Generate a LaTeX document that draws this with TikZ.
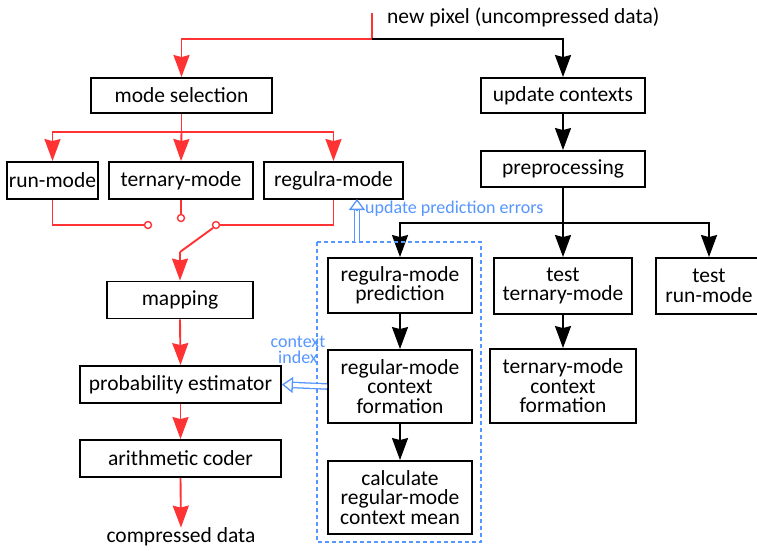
\documentclass[tikz,border=0pt]{standalone}
\usepackage{fontspec}
\setmainfont{Carlito}
\usetikzlibrary{arrows.meta}
\definecolor{rd}{RGB}{255,51,51}
\definecolor{bl}{RGB}{85,150,255}
\begin{document}
\begin{tikzpicture}[x=1pt,y=-1pt,
  font=\fontsize{21.5}{19.5}\selectfont,
  box/.style={draw, line width=1.9pt, align=center, inner sep=0pt},
  arr/.style={line width=1.9pt, -{Stealth[length=22pt,width=16pt,inset=2pt]}},
  ln/.style={line width=1.9pt},
  redarr/.style={arr, draw=rd},
  redln/.style={ln, draw=rd},
  sw/.style={circle, draw=rd, fill=white, line width=1.4pt, inner sep=0pt, minimum size=7pt},
  dblline/.style={draw=bl, double=white, double distance=4pt, line width=1.3pt, shorten >=10pt},
  dbltip/.style={draw=bl, line width=1.3pt, -{Triangle[open, length=11pt, width=16pt, fill=white]}},
  bluelbl/.style={text=bl, font=\fontsize{18}{16.5}\selectfont, inner sep=0pt, align=center}
]
\useasboundingbox[fill=white] (0,0) rectangle (757,550);

% left column
\node[box, minimum width=181pt, minimum height=35pt] (modesel) at (181.5,95.5) {mode selection};
\node[box, minimum width=91pt, minimum height=37pt] (run) at (52.5,180.5) {run-mode};
\node[box, minimum width=144pt, minimum height=37pt] (tern) at (181,180.5) {ternary-mode};
\node[box, minimum width=139pt, minimum height=37pt] (regm) at (333.5,180.5) {regulra-mode};
\node[box, minimum width=146pt, minimum height=37pt] (map) at (180,300) {mapping};
\node[box, minimum width=201pt, minimum height=37pt] (prob) at (180.5,384.5) {probability estimator};
\node[box, minimum width=201pt, minimum height=37pt] (arith) at (180.5,458.5) {arithmetic coder};
\node[inner sep=0pt] (out) at (181,537) {compressed data};

% right column
\node[box, minimum width=164pt, minimum height=35pt] (upd) at (563,95.5) {update contexts};
\node[box, minimum width=164pt, minimum height=36pt] (prep) at (563,169) {preprocessing};
\node[box, minimum width=144pt, minimum height=55pt] (pred) at (400,285.5) {regulra-mode\\prediction};
\node[box, minimum width=144pt, minimum height=73pt] (ctxf) at (400,386.5) {regular-mode\\context\\formation};
\node[box, minimum width=144pt, minimum height=73pt] (calc) at (400,497.5) {calculate\\regular-mode\\context mean};
\node[box, minimum width=138pt, minimum height=56pt] (ttern) at (563,286) {test\\ternary-mode};
\node[box, minimum width=106pt, minimum height=56pt] (trun) at (709,286) {test\\run-mode};
\node[box, minimum width=146pt, minimum height=74pt] (tctx) at (563,386) {ternary-mode\\context\\formation};

% top input
\node[inner sep=0pt, anchor=west] (inp) at (387,17) {new pixel (uncompressed data)};
\coordinate (top) at (372,13);
\coordinate (split) at (372,39);
\draw[redln] (top) -- (split);
\draw[redarr] (split) -| (modesel.north);
\draw[arr] (split) -| (upd.north);

% mode selection branches
\coordinate (mbr) at (181.5,132);
\draw[redln] (modesel.south) -- (mbr);
\draw[redarr] (mbr) -| (run.north);
\draw[redarr] (mbr) -- (tern.north);
\draw[redarr] (mbr) -| (regm.north);

% switch
\node[sw] (s1) at (148,225) {};
\node[sw] (s2) at (181,218) {};
\node[sw] (s3) at (216,225) {};
\coordinate (knee) at (180,252);
\draw[redln] (run.south) |- (s1.west);
\draw[redln] (tern.south) -- (s2.north);
\draw[redln] (regm.south) |- (s3.east);
\draw[redln] (s3.south west) -- (knee);
\draw[redarr] (knee) -- (map.north);
\draw[redarr] (map.south) -- (prob.north);
\draw[redarr] (prob.south) -- (arith.north);
\draw[redarr] (arith.south) -- (out.north);

% right flow
\draw[arr] (upd.south) -- (prep.north);
\coordinate (pbr) at (563,223);
\draw[arr] (prep.south) -- (ttern.north);
\draw[arr] (pbr) -| (pred.north);
\draw[arr] (pbr) -| (trun.north);
\draw[arr] (pred.south) -- (ctxf.north);
\draw[arr] (ctxf.south) -- (calc.north);
\draw[arr] (ttern.south) -- (tctx.north);

% dashed group
\draw[bl, line width=1.2pt, dash pattern=on 4pt off 3pt] (317,242) rectangle (481,542);
\coordinate (gtop) at (357,242);
\coordinate (gend) at (357,199);
\draw[dblline] (gtop) -- (gend);
\draw[dbltip, shorten <=31.8pt] (gtop) -- (gend);
\node[bluelbl, anchor=west] (upe) at (365,209) {update prediction errors};
\draw[dblline] (ctxf.west) -- (prob.east);
\draw[dbltip, shorten <=35.8pt] (ctxf.west) -- (prob.east);
\node[bluelbl] (ci) at (298,350) {context\\index};
\end{tikzpicture}
\end{document}
